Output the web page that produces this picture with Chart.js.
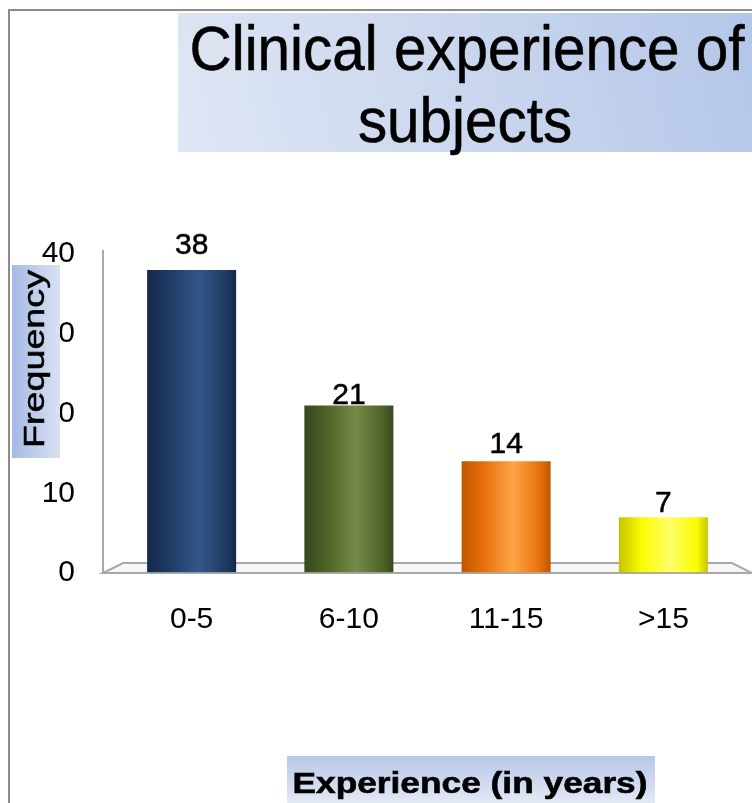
<!DOCTYPE html>
<html>
<head>
<meta charset="utf-8">
<script src="https://cdn.jsdelivr.net/npm/chart.js@4.4.1/dist/chart.umd.min.js"></script>
<style>
  html, body { margin: 0; padding: 0; background: #ffffff; }
  #wrap { width: 752px; height: 803px; position: relative; }
</style>
</head>
<body>
<div id="wrap"><canvas id="chart" width="752" height="803"></canvas></div>
<script>
// ---- data ----
const categories = ['0-5', '6-10', '11-15', '>15'];
const frequencies = [38, 21, 14, 7];
const yTicks = [0, 10, 20, 30, 40];
const titleLines = ['Clinical experience of', 'subjects'];
const yTitle = 'Frequency';
const xTitle = 'Experience (in years)';

// ---- styling ----
const FONT = '"Liberation Sans", Arial, sans-serif';
const BAR_PCT = 0.566;
// cylinder shading for each bar: [edge, body, highlight]
const barShades = [
  ['#132849', '#1f3b63', '#34568a'],
  ['#37471c', '#4f6228', '#768b48'],
  ['#bf5600', '#e8700c', '#ffa445'],
  ['#c4c400', '#fbfb00', '#ffff6a']
];
// vertical lift of each value label above its bar top
const labelLift = [24, 10, 17, 13];
const FLOOR_DEPTH = 10;

function cylinderFill(ctx) {
  const shade = barShades[ctx.dataIndex % barShades.length];
  const chart = ctx.chart;
  if (!chart.chartArea || ctx.type !== 'data') return shade[1];
  const xs = chart.scales.x;
  const cx = xs.getPixelForValue(ctx.dataIndex);
  const half = (xs.width / categories.length) * BAR_PCT / 2;
  const g = chart.ctx.createLinearGradient(cx - half, 0, cx + half, 0);
  g.addColorStop(0, shade[0]);
  g.addColorStop(0.25, shade[1]);
  g.addColorStop(0.58, shade[2]);
  g.addColorStop(0.88, shade[1]);
  g.addColorStop(1, shade[0]);
  return g;
}

// draw centred text squeezed/stretched horizontally
function fittedText(ctx, text, cx, baseline, font, sx) {
  ctx.save();
  ctx.font = font;
  ctx.translate(cx, baseline);
  ctx.scale(sx, 1);
  ctx.textAlign = 'center';
  ctx.textBaseline = 'alphabetic';
  ctx.fillText(text, 0, 0);
  ctx.lineWidth = 0.6;
  ctx.strokeStyle = ctx.fillStyle;
  ctx.strokeText(text, 0, 0);
  ctx.restore();
}
function widthScale(ctx, text, font, target) {
  ctx.save();
  ctx.font = font;
  const w = ctx.measureText(text).width;
  ctx.restore();
  return target / w;
}

// 3D floor under the bars and the back wall edge
const floorPlugin = {
  id: 'floor',
  beforeDatasetsDraw(chart) {
    const { ctx, chartArea: a } = chart;
    const d = FLOOR_DEPTH;
    ctx.save();
    ctx.beginPath();
    ctx.moveTo(a.left - d, a.bottom);
    ctx.lineTo(a.left + d, a.bottom - d);
    ctx.lineTo(a.right - d, a.bottom - d);
    ctx.lineTo(a.right + d, a.bottom);
    ctx.closePath();
    ctx.fillStyle = '#f7f7f7';
    ctx.fill();
    ctx.strokeStyle = '#a8a8a8';
    ctx.lineWidth = 2;
    ctx.stroke();
    // vertical axis wall edge
    ctx.beginPath();
    ctx.moveTo(a.left - d, a.top - 4);
    ctx.lineTo(a.left - d, a.bottom);
    ctx.stroke();
    ctx.restore();
  },
  afterDatasetsDraw(chart) {
    const { ctx, chartArea: a } = chart;
    const d = FLOOR_DEPTH;
    ctx.save();
    ctx.strokeStyle = 'rgba(168,168,168,0.85)';
    ctx.lineWidth = 2;
    ctx.beginPath();
    ctx.moveTo(a.left - d, a.bottom);
    ctx.lineTo(a.right + d, a.bottom);
    ctx.stroke();
    ctx.restore();
  }
};

// value labels above bars
const valueLabels = {
  id: 'valueLabels',
  afterDatasetsDraw(chart) {
    const { ctx } = chart;
    const meta = chart.getDatasetMeta(0);
    ctx.save();
    ctx.fillStyle = '#000';
    ctx.strokeStyle = '#000';
    ctx.lineWidth = 0.5;
    ctx.font = '30px ' + FONT;
    ctx.textAlign = 'center';
    ctx.textBaseline = 'middle';
    meta.data.forEach((bar, i) => {
      const t = String(frequencies[i]);
      ctx.fillText(t, bar.x, bar.y - labelLift[i]);
      ctx.strokeText(t, bar.x, bar.y - labelLift[i]);
    });
    ctx.restore();
  }
};

// page frame, title and axis title boxes
const decorations = {
  id: 'decorations',
  afterDraw(chart) {
    const { ctx } = chart;
    ctx.save();

    // title box
    let g = ctx.createLinearGradient(178, 152, 752, 13);
    g.addColorStop(0, '#dfe6f4');
    g.addColorStop(0.5, '#cad7ee');
    g.addColorStop(1, '#b4c6e8');
    ctx.fillStyle = g;
    ctx.fillRect(178, 13, 574, 139);
    ctx.fillStyle = '#000';
    const tFont = '63px ' + FONT;
    const tsx = widthScale(ctx, titleLines[0], tFont, 555);
    fittedText(ctx, titleLines[0], 467, 70, tFont, tsx);
    fittedText(ctx, titleLines[1], 465, 142, tFont, tsx);

    // frame lines
    ctx.strokeStyle = '#8c8c8c';
    ctx.lineWidth = 2;
    ctx.beginPath();
    ctx.moveTo(8, 10);
    ctx.lineTo(752, 10);
    ctx.moveTo(9, 10);
    ctx.lineTo(9, 803);
    ctx.stroke();

    // y axis title box (sits over the tick column)
    g = ctx.createLinearGradient(12, 0, 60, 0);
    g.addColorStop(0, '#a5bae4');
    g.addColorStop(1, '#d9e2f2');
    ctx.fillStyle = g;
    ctx.fillRect(12, 265, 48, 193);
    ctx.fillStyle = '#000';
    const yFont = '36px ' + FONT;
    const ysx = widthScale(ctx, yTitle, yFont, 178);
    ctx.save();
    ctx.translate(44, 359);
    ctx.rotate(-Math.PI / 2);
    ctx.scale(ysx, 0.82);
    ctx.font = yFont;
    ctx.textAlign = 'center';
    ctx.textBaseline = 'alphabetic';
    ctx.fillText(yTitle, 0, 0);
    ctx.lineWidth = 0.6;
    ctx.strokeStyle = '#000';
    ctx.strokeText(yTitle, 0, 0);
    ctx.restore();

    // x axis title box
    g = ctx.createLinearGradient(0, 756, 0, 803);
    g.addColorStop(0, '#b6c7e8');
    g.addColorStop(1, '#e3e9f5');
    ctx.fillStyle = g;
    ctx.fillRect(287, 756, 368, 47);
    ctx.fillStyle = '#000';
    const xFont = 'bold 30px ' + FONT;
    const xsx = widthScale(ctx, xTitle, xFont, 355);
    fittedText(ctx, xTitle, 470, 793, xFont, xsx);

    ctx.restore();
  }
};

new Chart(document.getElementById('chart'), {
  type: 'bar',
  data: {
    labels: categories,
    datasets: [{
      data: frequencies,
      backgroundColor: cylinderFill,
      borderWidth: 0,
      categoryPercentage: 1,
      barPercentage: BAR_PCT
    }]
  },
  options: {
    responsive: false,
    animation: false,
    layout: { padding: { top: 254, right: 10, left: 0, bottom: 0 } },
    plugins: {
      legend: { display: false },
      tooltip: { enabled: false },
      title: { display: false }
    },
    scales: {
      x: {
        grid: { display: false, drawTicks: false },
        border: { display: false },
        ticks: {
          color: '#000',
          font: { family: FONT, size: 30 },
          padding: 29,
          maxRotation: 0,
          autoSkip: false
        },
        afterFit(s) { s.height = 230; }
      },
      y: {
        min: 0,
        max: 40,
        grid: { display: false, drawTicks: false },
        border: { display: false },
        ticks: {
          color: '#000',
          font: { family: FONT, size: 30 },
          padding: 38
        },
        afterBuildTicks(s) { s.ticks = yTicks.map(v => ({ value: v })); },
        afterFit(s) { s.width = 113; }
      }
    }
  },
  plugins: [floorPlugin, valueLabels, decorations]
});
</script>
</body>
</html>
